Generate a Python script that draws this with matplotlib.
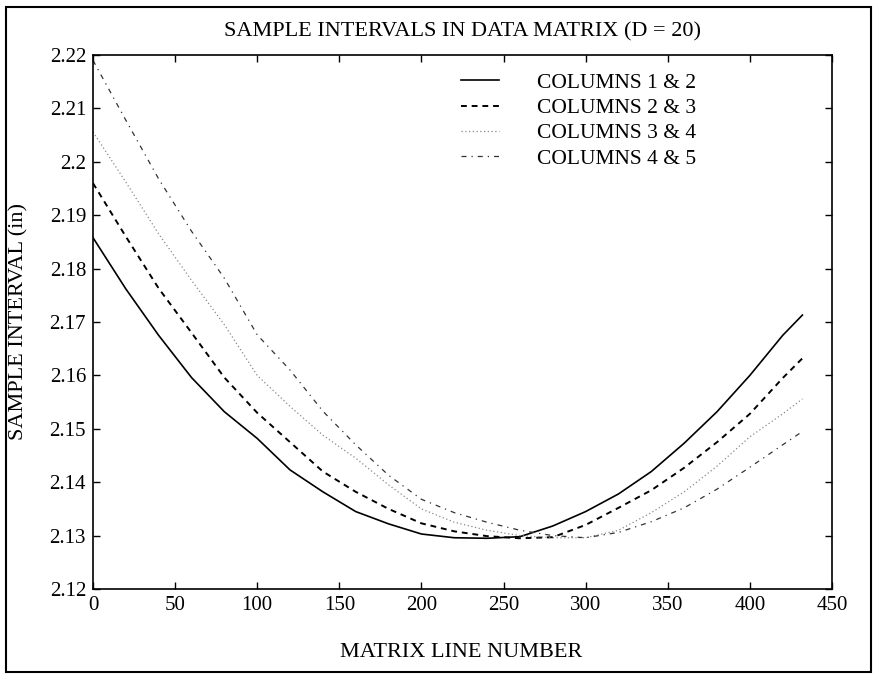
import numpy as np
import matplotlib
matplotlib.use("Agg")
import matplotlib.pyplot as plt
from matplotlib.patches import Rectangle

plt.rcParams['font.family'] = ['Liberation Serif', 'DejaVu Serif']

# matrix line number where values were read
line_no = [0, 20, 40, 60, 80, 100, 120, 140, 160, 180, 200, 220, 240,
           260, 280, 300, 320, 340, 360, 380, 400, 420, 432]

col_12 = [2.1858, 2.1762, 2.1675, 2.1596, 2.1532, 2.1482, 2.1423, 2.1382,
          2.1345, 2.1322, 2.1303, 2.1296, 2.1295, 2.1298, 2.1318, 2.1345,
          2.1378, 2.1420, 2.1473, 2.1532, 2.1600, 2.1675, 2.1713]
col_23 = [2.1960, 2.1860, 2.1763, 2.1680, 2.1596, 2.1530, 2.1475, 2.1420,
          2.1382, 2.1350, 2.1323, 2.1308, 2.1299, 2.1295, 2.1297, 2.1320,
          2.1352, 2.1385, 2.1427, 2.1475, 2.1528, 2.1595, 2.1632]
col_34 = [2.2056, 2.1962, 2.1865, 2.1778, 2.1695, 2.1600, 2.1542, 2.1488,
          2.1445, 2.1395, 2.1350, 2.1325, 2.1310, 2.1300, 2.1296, 2.1296,
          2.1310, 2.1343, 2.1382, 2.1430, 2.1485, 2.1528, 2.1556]
col_45 = [2.2190, 2.2078, 2.1968, 2.1870, 2.1782, 2.1676, 2.1610, 2.1533,
          2.1470, 2.1413, 2.1368, 2.1343, 2.1325, 2.1310, 2.1300, 2.1296,
          2.1306, 2.1326, 2.1352, 2.1387, 2.1428, 2.1470, 2.1495]

labels = ["COLUMNS 1 & 2", "COLUMNS 2 & 3", "COLUMNS 3 & 4", "COLUMNS 4 & 5"]

fig = plt.figure(figsize=(8.73, 6.75), dpi=100)
ax = fig.add_axes([0.1065, 0.1274, 0.8465, 0.7911])

ax.plot(line_no, col_12, color='black', lw=1.2, ls='-', label=labels[0])
ax.plot(line_no, col_23, color='black', lw=1.4, ls=(0, (3, 2.5)), label=labels[1])
ax.plot(line_no, col_34, color='#888888', lw=0.9, ls=(0, (1, 2)), label=labels[2])
ax.plot(line_no, col_45, color='#333333', lw=0.9, ls=(0, (4, 4, 1, 4)), label=labels[3])

ax.set_xlim(0, 450)
ax.set_ylim(2.12, 2.22)
ax.set_xticks(np.arange(0, 451, 50))
ax.set_yticks(np.arange(2.12, 2.2201, 0.01))
ax.set_yticklabels(["2.12", "2.13", "2.14", "2.15", "2.16", "2.17", "2.18",
                    "2.19", "2.2", "2.21", "2.22"])
ax.tick_params(direction='in', length=5, width=1, labelsize=15,
               top=True, right=True, pad=5)
for s in ax.spines.values():
    s.set_linewidth(1.2)

leg = ax.legend(loc='upper left', bbox_to_anchor=(0.472, 1.003), frameon=False,
                fontsize=15.5, handlelength=1.75, handletextpad=1.75,
                labelspacing=0.24)

fig.text(0.53, 0.953, "SAMPLE INTERVALS IN DATA MATRIX (D = 20)",
         ha='center', va='center', fontsize=16)
fig.text(0.528, 0.034, "MATRIX LINE NUMBER", ha='center', va='center', fontsize=16)
fig.text(0.022, 0.523, "SAMPLE INTERVAL (in)", ha='center', va='center',
         rotation=90, fontsize=16)

# outer frame of the scanned figure
fig.patches.append(Rectangle((0.0069, 0.0044), 0.9908, 0.9852, transform=fig.transFigure,
                             fill=False, edgecolor='black', lw=1.5))

fig.savefig("out.png", dpi=100)
